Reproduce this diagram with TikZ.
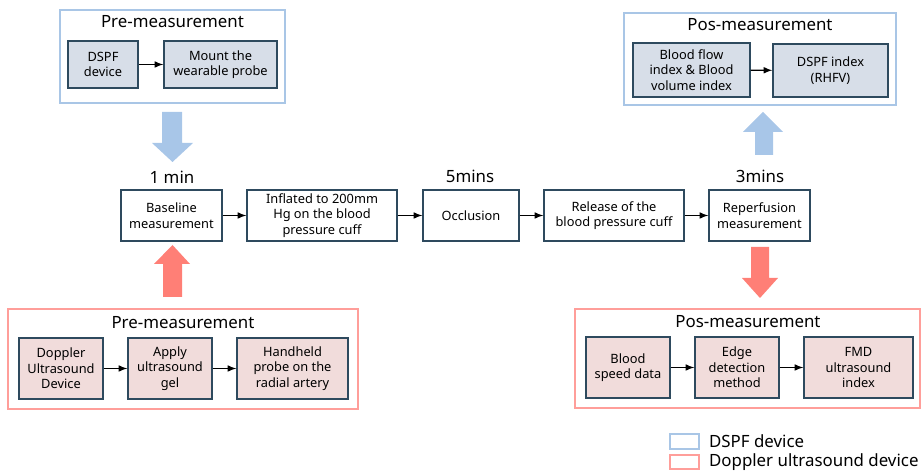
\documentclass[tikz,border=0pt]{standalone}
\usepackage{fontspec}
\setmainfont{Noto Sans}
\usetikzlibrary{shapes}

\definecolor{bluefill}{HTML}{D7DEE8}
\definecolor{blueline}{HTML}{A9C6E6}
\definecolor{bluearrow}{HTML}{A8C6E8}
\definecolor{redfill}{HTML}{F1DCDB}
\definecolor{redline}{HTML}{FF9E9A}
\definecolor{redarrow}{HTML}{FF7F76}
\definecolor{boxline}{HTML}{2E4A5E}

\begin{document}
\begin{tikzpicture}[x=0.02cm,y=-0.02cm]
\tikzstyle{every node}=[align=center, inner sep=1pt,
	font=\fontsize{7.3}{8.8}\selectfont]
\tikzstyle{stepbox}=[rectangle, draw=boxline, line width=0.8pt]
\tikzstyle{bluebox}=[stepbox, fill=bluefill, minimum height=0.94cm]
\tikzstyle{redbox}=[stepbox, fill=redfill, minimum height=1.22cm]
\tikzstyle{flowbox}=[stepbox, minimum height=1.02cm]
\tikzstyle{title}=[font=\fontsize{9.6}{11}\selectfont]
\tikzstyle{link}=[->, >=latex, line width=0.7pt]
\useasboundingbox (0,0) rectangle (921,472);

% pre-measurement with the DSPF device
\draw[blueline, line width=0.8pt] (60,10) rectangle (285,103);
\node[title] (pretitle) at (172.5,22) {Pre-measurement};
\node[bluebox, minimum width=1.40cm] (dspf) at (103,64.5) {DSPF\\device};
\node[bluebox, minimum width=2.26cm] (mount) at (220.5,64.5) {Mount the\\wearable probe};
\draw[link] (dspf) -- (mount);

% pos-measurement with the DSPF device
\draw[blueline, line width=0.8pt] (624,13) rectangle (896,105);
\node[title] (postitle) at (760,25) {Pos-measurement};
\node[bluebox, minimum width=2.34cm, minimum height=1.08cm] (flow) at (691.5,70)
	{Blood flow\\index \& Blood\\volume index};
\node[bluebox, minimum width=2.30cm, minimum height=1.06cm] (rhfv) at (830.5,70.5)
	{DSPF index\\(RHFV)};
\draw[link] (flow) -- (rhfv);

% main protocol
\node[flowbox, minimum width=2.02cm] (base) at (171.5,215.5) {Baseline\\measurement};
\node[flowbox, minimum width=3.00cm] (inflate) at (322,215.5)
	{Inflated to 200mm\\Hg on the blood\\pressure cuff};
\node[flowbox, minimum width=1.92cm] (occl) at (471,215.5) {Occlusion};
\node[flowbox, minimum width=2.80cm] (release) at (614,215.5)
	{Release of the\\blood pressure cuff};
\node[flowbox, minimum width=2.02cm] (reperf) at (759.5,215.5)
	{Reperfusion\\measurement};
\draw[link] (base) -- (inflate);
\draw[link] (inflate) -- (occl);
\draw[link] (occl) -- (release);
\draw[link] (release) -- (reperf);

\node[title] (t1) at (172,177) {1 min};
\node[title] (t5) at (470,176) {5mins};
\node[title] (t3) at (760,176) {3mins};

% big arrows
\fill[bluearrow] (162,112) -- (182,112) -- (182,143) -- (193,143) -- (172.5,162)
	-- (152,143) -- (162,143) -- cycle;
\fill[redarrow] (163,297) -- (182,297) -- (182,264) -- (190,264) -- (172.5,245)
	-- (154,264) -- (163,264) -- cycle;
\fill[bluearrow] (755,155) -- (773,155) -- (773,132) -- (783,132) -- (763,112)
	-- (743,132) -- (755,132) -- cycle;
\fill[redarrow] (751,247) -- (769,247) -- (769,278) -- (778,278) -- (760,298)
	-- (742,278) -- (751,278) -- cycle;

% pre-measurement with the Doppler ultrasound device
\draw[redline, line width=0.8pt] (8,309) rectangle (358,409);
\node[title] (dtitle) at (183,323) {Pre-measurement};
\node[redbox, minimum width=1.68cm] (doppler) at (61,368.5)
	{Doppler\\Ultrasound\\Device};
\node[redbox, minimum width=1.68cm] (gel) at (170,368.5)
	{Apply\\ultrasound\\gel};
\node[redbox, minimum width=2.22cm] (hand) at (292.5,368.5)
	{Handheld\\probe on the\\radial artery};
\draw[link] (doppler) -- (gel);
\draw[link] (gel) -- (hand);

% pos-measurement with the Doppler ultrasound device
\draw[redline, line width=0.8pt] (575,309) rectangle (920,408);
\node[title] (ptitle) at (748,322) {Pos-measurement};
\node[redbox, minimum width=1.68cm] (speed) at (628,367.5)
	{Blood\\speed data};
\node[redbox, minimum width=1.68cm] (edge) at (737,367.5)
	{Edge\\detection\\method};
\node[redbox, minimum width=2.18cm] (fmd) at (858.5,367.5)
	{FMD\\ultrasound\\index};
\draw[link] (speed) -- (edge);
\draw[link] (edge) -- (fmd);

% legend
\draw[blueline, line width=0.8pt] (670,434) rectangle (699,449);
\draw[redline, line width=0.8pt] (670,455) rectangle (699,469);
\node[title, anchor=west] (lblue) at (707,441.5) {DSPF device};
\node[title, anchor=west] (lred) at (707,462) {Doppler ultrasound device};
\end{tikzpicture}
\end{document}
